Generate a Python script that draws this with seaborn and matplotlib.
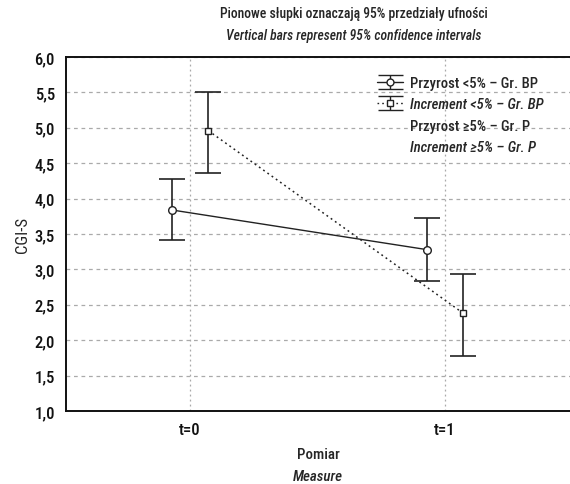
import numpy as np
import pandas as pd
import matplotlib
matplotlib.use("Agg")
import matplotlib.pyplot as plt
import matplotlib.font_manager as fm
import seaborn as sns
from matplotlib.lines import Line2D
from matplotlib.ticker import FuncFormatter, MultipleLocator

# ---- data ----
measures = ["t=0", "t=1"]
bp_mean = [3.84, 3.28]
bp_low = [3.42, 2.84]
bp_high = [4.28, 3.72]
p_mean = [4.96, 2.38]
p_low = [4.36, 1.77]
p_high = [5.51, 2.94]
legend_labels = ["Przyrost <5% – Gr. BP", "Increment <5% – Gr. BP",
                 "Przyrost ≥5% – Gr. P", "Increment ≥5% – Gr. P"]

sns.set_theme(style="white")
names = {f.name for f in fm.fontManager.ttflist}
fams = [n for n in ["Roboto Condensed", "Open Sans Condensed", "Liberation Sans Narrow",
                    "DejaVu Sans"] if n in names]
plt.rcParams["font.family"] = fams + ["DejaVu Sans"]
plt.rcParams["font.stretch"] = "condensed"
plt.rcParams["font.weight"] = "medium"

fig = plt.figure(figsize=(5.7, 4.85), dpi=100)
ax = fig.add_axes([66/570, 1-412/485, (575-66)/570, (412-58)/485])

dodge = 0.072
x = np.arange(len(measures))
df = pd.DataFrame({
    "x": np.concatenate([x - dodge, x + dodge]),
    "mean": bp_mean + p_mean,
    "group": ["BP"] * 2 + ["P"] * 2,
})

ink = "#222222"
sns.lineplot(data=df[df.group == "BP"], x="x", y="mean", ax=ax, color=ink,
             lw=1.0, marker="o", markersize=5.5, markerfacecolor="white",
             markeredgecolor=ink, markeredgewidth=1.0, zorder=5)
sns.lineplot(data=df[df.group == "P"], x="x", y="mean", ax=ax, color=ink,
             lw=1.1, linestyle=(0, (1.2, 2.2)), marker="s", markersize=5,
             markerfacecolor="white", markeredgecolor=ink,
             markeredgewidth=1.0, zorder=5)

bm, pm = np.array(bp_mean), np.array(p_mean)
ax.errorbar(x - dodge, bm, yerr=[bm - np.array(bp_low), np.array(bp_high) - bm],
            fmt="none", ecolor=ink, elinewidth=1.2, capsize=9.6, capthick=1.2, zorder=3)
ax.errorbar(x + dodge, pm, yerr=[pm - np.array(p_low), np.array(p_high) - pm],
            fmt="none", ecolor=ink, elinewidth=1.2, capsize=9.6, capthick=1.2, zorder=3)

ax.set_xlim(-0.486, 1.51)
ax.set_ylim(1.0, 6.0)
ax.set_xticks(x)
ax.set_xticklabels(measures)
ax.yaxis.set_major_locator(MultipleLocator(0.5))
ax.yaxis.set_major_formatter(FuncFormatter(lambda v, p: f"{v:.1f}".replace(".", ",")))
ax.tick_params(axis="both", length=0, labelsize=12, colors="#111111", pad=8)

ax.grid(True, axis="y", linestyle=(0, (3, 3)), color="#aaaaaa", lw=0.9)
ax.grid(True, axis="x", linestyle=(0, (1.5, 2.5)), color="#aaaaaa", lw=0.9)
ax.set_axisbelow(True)
for s in ["left", "bottom", "top", "right"]:
    ax.spines[s].set_color("#111111")
    ax.spines[s].set_linewidth(1.4)

ax.set_xlabel("")
ax.set_ylabel("CGI-S", fontsize=12, labelpad=3)
fig.text(318/570, 1-455/485, "Pomiar", ha="center", va="center", fontsize=10.8)
fig.text(318/570, 1-477/485, "Measure", ha="center", va="center", fontsize=10.8, style="italic")
fig.text(354/570, 1-14/485, "Pionowe słupki oznaczają 95% przedziały ufności",
         ha="center", va="center", fontsize=9.8)
fig.text(354/570, 1-36/485, "Vertical bars represent 95% confidence intervals",
         ha="center", va="center", fontsize=9.8, style="italic")

hd1 = ax.errorbar([np.nan], [np.nan], yerr=[[0.1]], fmt="-o", color=ink, mfc="white",
                  ms=5, lw=1.0, elinewidth=1.0, capsize=9)
hd2 = ax.errorbar([np.nan], [np.nan], yerr=[[0.1]], fmt="s", ls=(0, (1.2, 2.2)), color=ink,
                  mfc="white", ms=4.5, lw=1.0, elinewidth=1.0, capsize=9)
blank = Line2D([], [], color="none")
leg = ax.legend([hd1, hd2, blank, blank], legend_labels, loc="upper left",
                bbox_to_anchor=((377-66)/509, (412-77)/354), frameon=False, fontsize=10.5,
                borderaxespad=0, borderpad=0,
                handlelength=1.78, handletextpad=0.48, labelspacing=0.5)
for i, t in enumerate(leg.get_texts()):
    if i % 2 == 1:
        t.set_style("italic")

fig.savefig("out.png", dpi=100)
